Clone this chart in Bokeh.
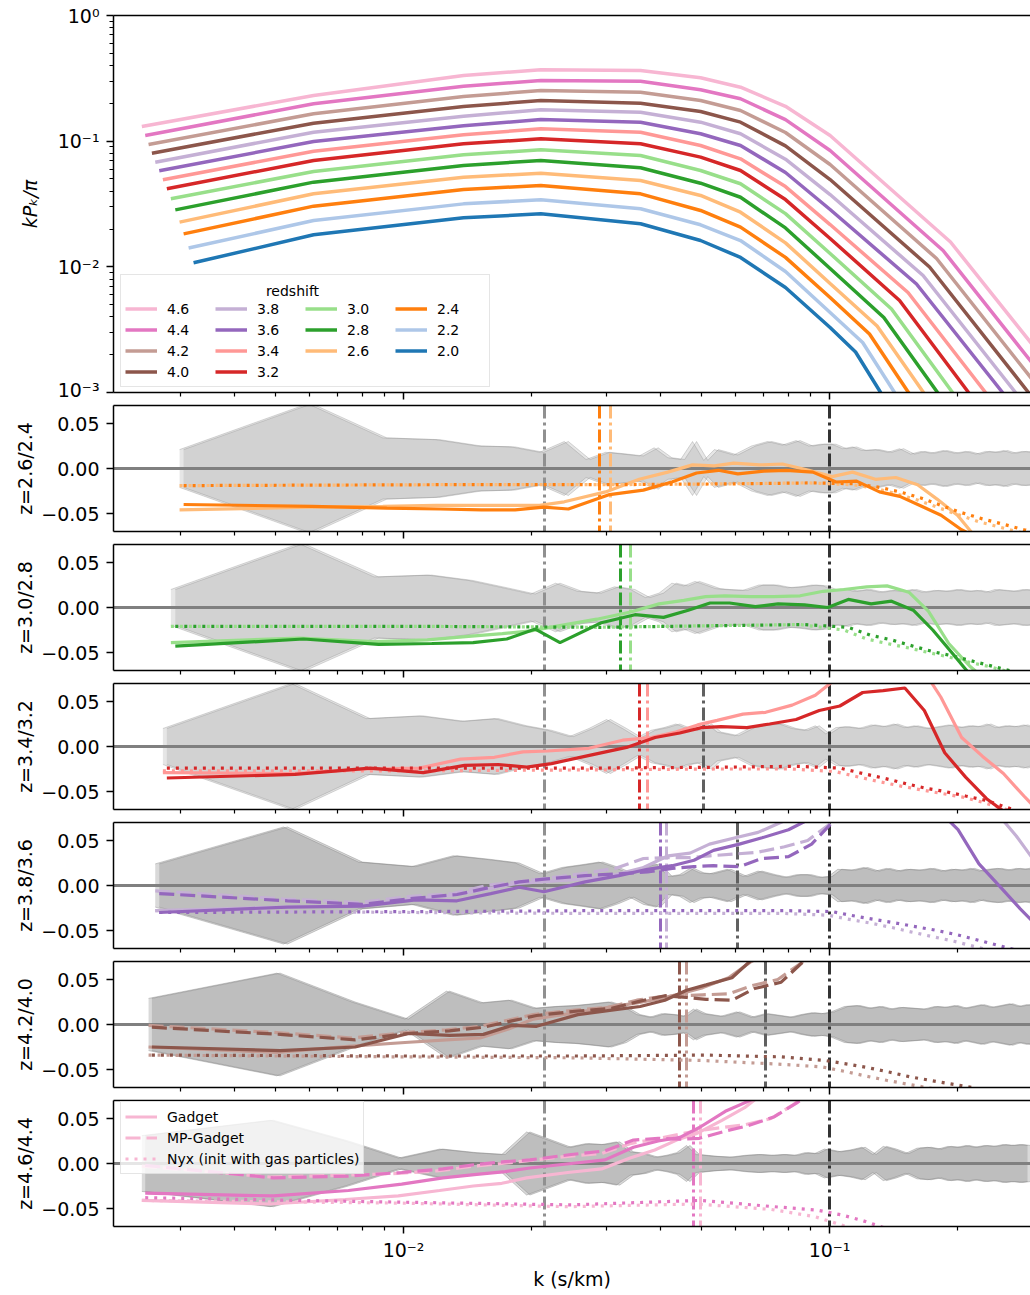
from bokeh.plotting import figure
from bokeh.layouts import column
from bokeh.models import Range1d, FixedTicker, LogAxis, Legend, LegendItem, Label
from bokeh.embed import file_html
from bokeh.resources import INLINE

FONT = "DejaVu Sans"

# ---------------- data ----------------
REDSHIFTS = [4.6, 4.4, 4.2, 4.0, 3.8, 3.6, 3.4, 3.2, 3.0, 2.8, 2.6, 2.4, 2.2, 2.0]
COLORS = ["#f7b6d2", "#e377c2", "#c49c94", "#8c564b", "#c5b0d5", "#9467bd",
          "#ff9896", "#d62728", "#98df8a", "#2ca02c", "#ffbb78", "#ff7f0e",
          "#aec7e8", "#1f77b4"]
# fundamental k-bin (s/km) per redshift
DK = [0.002430, 0.002475, 0.002520, 0.002566, 0.002613, 0.002670, 0.002723,
      0.002782, 0.002843, 0.002912, 0.002980, 0.003046, 0.003129, 0.003214]

# top panel: k sample points
K_COMMON = [0.00615, 0.01383, 0.0210, 0.0360, 0.0498, 0.0618, 0.0788, 0.1003]
K_MID = [0.1923, 0.1847, 0.1783, 0.1717, 0.1658, 0.1600, 0.1528, 0.1460, 0.1398,
         0.1341, 0.1293, 0.1241, 0.1196, 0.1151]
K_CROSS = [0.3679, 0.3392, 0.3162, 0.2931, 0.2733, 0.2548, 0.2324, 0.2120, 0.1944,
           0.1793, 0.1662, 0.1532, 0.1421, 0.1318]
K_TAIL = [0.388, 0.358, 0.334, 0.309, 0.288, 0.269, 0.245, 0.224, 0.205, 0.189,
          0.175, 0.162, 0.150, 0.139]

KP_46 = [0.1308, 0.2309, 0.3331, 0.3697, 0.3650, 0.3192, 0.2688, 0.1893, 0.1110, 0.01576, 0.0010, 0.0008]
KP_44 = [0.1110, 0.1983, 0.2738, 0.3039, 0.3001, 0.2563, 0.2174, 0.1483, 0.0843, 0.01349, 0.0010, 0.0008]
KP_42 = [0.0941, 0.1651, 0.2267, 0.2530, 0.2453, 0.2107, 0.1754, 0.1172, 0.0652, 0.01165, 0.0010, 0.0008]
KP_40 = [0.0802, 0.1390, 0.1888, 0.2107, 0.2005, 0.1722, 0.1416, 0.0918, 0.0495, 0.00997, 0.0010, 0.0008]
KP_38 = [0.0680, 0.1179, 0.1580, 0.1777, 0.1700, 0.1416, 0.1145, 0.0719, 0.0376, 0.00853, 0.0010, 0.0008]
KP_36 = [0.0581, 0.0994, 0.1325, 0.1487, 0.1416, 0.1145, 0.0924, 0.0563, 0.0286, 0.00730, 0.0010, 0.0008]
KP_34 = [0.0493, 0.0832, 0.1124, 0.1254, 0.1179, 0.0924, 0.0724, 0.0435, 0.0217, 0.00625, 0.0010, 0.0008]
KP_32 = [0.0418, 0.0702, 0.0953, 0.1044, 0.0953, 0.0746, 0.0584, 0.0343, 0.0168, 0.00540, 0.0010, 0.0008]
KP_30 = [0.0348, 0.0574, 0.0779, 0.0854, 0.0769, 0.0584, 0.0458, 0.0265, 0.01277, 0.00462, 0.0010, 0.0008]
KP_28 = [0.0284, 0.0472, 0.0640, 0.0702, 0.0614, 0.0463, 0.0358, 0.0204, 0.00970, 0.00395, 0.0010, 0.0008]
KP_26 = [0.0227, 0.0381, 0.0517, 0.0556, 0.0486, 0.0370, 0.0272, 0.01552, 0.00737, 0.00338, 0.0010, 0.0008]
KP_24 = [0.0183, 0.0304, 0.0412, 0.0444, 0.0381, 0.0281, 0.0207, 0.0119, 0.00570, 0.00292, 0.0010, 0.0008]
KP_22 = [0.0141, 0.0234, 0.0317, 0.0342, 0.0290, 0.0216, 0.0162, 0.00918, 0.00433, 0.00250, 0.0010, 0.0008]
KP_20 = [0.01077, 0.0180, 0.0246, 0.0264, 0.0220, 0.0162, 0.01187, 0.00685, 0.00329, 0.00210, 0.0010, 0.0008]
KP_ALL = [KP_46, KP_44, KP_42, KP_40, KP_38, KP_36, KP_34, KP_32, KP_30, KP_28,
          KP_26, KP_24, KP_22, KP_20]

# residual panels: k-bin indices (k = n * DK)
N_LINE = [1, 2, 3, 4, 5, 6, 7, 8, 10, 12, 14, 16, 18, 20, 23, 26, 30, 34, 38, 43,
          48, 54, 60, 67, 75, 84, 94, 105, 118]
N_DOT = [1, 4, 10, 20, 30, 38, 43, 48, 54, 60, 67, 75, 84, 94, 105, 118]
N_BAND = [1, 2, 3, 4, 5, 6, 7, 8, 9, 10, 11, 12, 13, 14, 15, 16, 17, 18, 19, 20,
          22, 24, 26, 28, 30, 32, 34, 36, 38, 40, 43, 46, 49, 52, 55, 58, 62, 66, 70, 74,
          78, 82, 86, 90, 95, 100, 105, 110, 115, 120]

# Gadget (solid)
G_24 = [-0.040, -0.042, -0.044, -0.045, -0.046, -0.046, -0.043, -0.045, -0.029, -0.024, -0.015, -0.005, -0.002, -0.006, -0.003, -0.002, -0.004, -0.015, -0.014, -0.026, -0.031, -0.042, -0.052, -0.068, -0.080, -0.090, -0.090, -0.090, -0.090]
G_26 = [-0.046, -0.043, -0.042, -0.041, -0.041, -0.041, -0.041, -0.037, -0.026, -0.012, -0.004, 0.004, 0.003, 0.006, 0.004, 0.005, -0.002, -0.009, -0.004, -0.012, -0.010, -0.018, -0.034, -0.052, -0.080, -0.090, -0.090, -0.090, -0.090]
G_28 = [-0.043, -0.035, -0.041, -0.040, -0.039, -0.035, -0.024, -0.039, -0.017, -0.008, -0.011, -0.003, 0.005, 0.005, 0.001, 0.004, 0.003, 0.000, 0.009, 0.004, 0.007, -0.003, -0.025, -0.052, -0.080, -0.090, -0.090, -0.090, -0.090]
G_30 = [-0.039, -0.034, -0.038, -0.036, -0.032, -0.029, -0.026, -0.021, -0.013, -0.005, 0.004, 0.008, 0.012, 0.013, 0.012, 0.012, 0.013, 0.018, 0.020, 0.023, 0.024, 0.017, -0.004, -0.040, -0.065, -0.085, -0.090, -0.090, -0.090]
G_32 = [-0.035, -0.031, -0.024, -0.029, -0.021, -0.020, -0.023, -0.019, -0.009, -0.001, 0.010, 0.015, 0.021, 0.022, 0.021, 0.025, 0.030, 0.040, 0.045, 0.060, 0.062, 0.065, 0.040, -0.007, -0.034, -0.058, -0.075, -0.085, -0.090]
G_34 = [-0.029, -0.030, -0.025, -0.024, -0.014, -0.012, -0.006, -0.005, -0.002, 0.007, 0.010, 0.016, 0.024, 0.029, 0.036, 0.038, 0.046, 0.057, 0.075, 0.090, 0.095, 0.095, 0.090, 0.055, 0.010, -0.011, -0.030, -0.055, -0.080]
G_36 = [-0.030, -0.024, -0.023, -0.016, -0.017, -0.009, -0.002, -0.007, 0.004, 0.011, 0.018, 0.022, 0.028, 0.039, 0.046, 0.053, 0.062, 0.075, 0.085, 0.095, 0.100, 0.100, 0.095, 0.085, 0.062, 0.024, -0.001, -0.026, -0.050]
G_38 = [-0.028, -0.024, -0.022, -0.015, -0.011, -0.004, 0.002, 0.004, 0.007, 0.012, 0.020, 0.033, 0.036, 0.046, 0.053, 0.059, 0.072, 0.085, 0.095, 0.100, 0.110, 0.110, 0.110, 0.110, 0.100, 0.090, 0.082, 0.055, 0.022]
G_40 = [-0.025, -0.029, -0.025, -0.010, -0.012, -0.011, -0.001, -0.002, 0.011, 0.016, 0.020, 0.027, 0.038, 0.044, 0.052, 0.075, 0.090, 0.100, 0.100, 0.100, 0.100, 0.100, 0.100, 0.100, 0.100, 0.100, 0.100, 0.100, 0.100]
G_42 = [-0.025, -0.031, -0.024, -0.020, -0.017, -0.015, -0.005, 0.006, 0.013, 0.019, 0.024, 0.029, 0.035, 0.041, 0.052, 0.070, 0.085, 0.100, 0.100, 0.100, 0.100, 0.100, 0.100, 0.100, 0.100, 0.100, 0.100, 0.100, 0.100]
G_44 = [-0.033, -0.036, -0.030, -0.023, -0.016, -0.012, -0.009, -0.005, 0.000, 0.004, 0.018, 0.025, 0.029, 0.040, 0.058, 0.069, 0.085, 0.100, 0.100, 0.100, 0.100, 0.100, 0.100, 0.100, 0.100, 0.100, 0.100, 0.100, 0.100]
G_46 = [-0.041, -0.045, -0.040, -0.036, -0.030, -0.025, -0.022, -0.016, -0.010, -0.006, 0.006, 0.015, 0.026, 0.033, 0.048, 0.062, 0.085, 0.100, 0.100, 0.100, 0.100, 0.100, 0.100, 0.100, 0.100, 0.100, 0.100, 0.100, 0.100]

# MP-Gadget (dashed)
MP_36 = [-0.009, -0.017, -0.021, -0.014, -0.010, -0.002, 0.004, 0.007, 0.011, 0.013, 0.015, 0.019, 0.021, 0.022, 0.021, 0.030, 0.032, 0.046, 0.070, 0.090, 0.100, 0.100, 0.100, 0.100, 0.100, 0.100, 0.100, 0.100, 0.100]
MP_38 = [-0.006, -0.015, -0.019, -0.012, -0.009, 0.000, 0.004, 0.007, 0.013, 0.019, 0.030, 0.031, 0.031, 0.033, 0.035, 0.037, 0.043, 0.050, 0.067, 0.090, 0.100, 0.100, 0.100, 0.100, 0.100, 0.100, 0.100, 0.100, 0.100]
MP_40 = [-0.003, -0.011, -0.017, -0.010, -0.007, -0.003, 0.004, 0.010, 0.015, 0.018, 0.026, 0.032, 0.030, 0.028, 0.027, 0.040, 0.047, 0.071, 0.090, 0.100, 0.100, 0.100, 0.100, 0.100, 0.100, 0.100, 0.100, 0.100, 0.100]
MP_42 = [-0.001, -0.009, -0.015, -0.009, -0.006, -0.002, 0.005, 0.011, 0.016, 0.019, 0.027, 0.031, 0.032, 0.033, 0.034, 0.043, 0.050, 0.068, 0.090, 0.100, 0.100, 0.100, 0.100, 0.100, 0.100, 0.100, 0.100, 0.100, 0.100]
MP_44 = [-0.002, -0.016, -0.014, -0.010, -0.006, -0.001, 0.002, 0.004, 0.010, 0.014, 0.026, 0.028, 0.027, 0.028, 0.036, 0.042, 0.052, 0.068, 0.085, 0.100, 0.100, 0.100, 0.100, 0.100, 0.100, 0.100, 0.100, 0.100, 0.100]
MP_46 = [-0.003, -0.015, -0.013, -0.011, -0.008, -0.003, 0.000, 0.003, 0.008, 0.011, 0.022, 0.027, 0.032, 0.036, 0.040, 0.043, 0.050, 0.066, 0.085, 0.100, 0.100, 0.100, 0.100, 0.100, 0.100, 0.100, 0.100, 0.100, 0.100]

# Nyx (dotted)
NYX_24 = [-0.019, -0.018, -0.018, -0.017, -0.016, -0.017, -0.021, -0.026, -0.033, -0.041, -0.049, -0.056, -0.062, -0.068, -0.073, -0.078]
NYX_26 = [-0.019, -0.018, -0.018, -0.017, -0.016, -0.018, -0.022, -0.028, -0.035, -0.043, -0.051, -0.059, -0.065, -0.071, -0.077, -0.082]
NYX_28 = [-0.021, -0.021, -0.022, -0.020, -0.019, -0.022, -0.031, -0.036, -0.043, -0.049, -0.054, -0.060, -0.066, -0.072, -0.077, -0.082]
NYX_30 = [-0.021, -0.021, -0.022, -0.020, -0.019, -0.025, -0.035, -0.040, -0.045, -0.050, -0.055, -0.061, -0.066, -0.072, -0.078, -0.083]
NYX_32 = [-0.024, -0.024, -0.024, -0.023, -0.022, -0.024, -0.030, -0.035, -0.041, -0.046, -0.050, -0.055, -0.060, -0.068, -0.075, -0.080]
NYX_34 = [-0.027, -0.027, -0.026, -0.025, -0.025, -0.028, -0.034, -0.039, -0.044, -0.048, -0.052, -0.056, -0.062, -0.069, -0.076, -0.081]
NYX_36 = [-0.030, -0.029, -0.028, -0.028, -0.028, -0.029, -0.034, -0.038, -0.042, -0.046, -0.050, -0.055, -0.061, -0.067, -0.073, -0.078]
NYX_38 = [-0.028, -0.030, -0.031, -0.031, -0.031, -0.033, -0.038, -0.042, -0.047, -0.052, -0.057, -0.062, -0.068, -0.074, -0.079, -0.084]
NYX_40 = [-0.034, -0.035, -0.035, -0.034, -0.036, -0.040, -0.044, -0.048, -0.053, -0.058, -0.062, -0.066, -0.070, -0.074, -0.078, -0.082]
NYX_42 = [-0.034, -0.036, -0.037, -0.040, -0.044, -0.047, -0.052, -0.057, -0.062, -0.066, -0.070, -0.074, -0.078, -0.082, -0.086, -0.090]
NYX_44 = [-0.038, -0.043, -0.046, -0.041, -0.048, -0.052, -0.057, -0.063, -0.071, -0.077, -0.082, -0.087, -0.090, -0.090, -0.090, -0.090]
NYX_46 = [-0.041, -0.044, -0.048, -0.045, -0.051, -0.059, -0.067, -0.074, -0.080, -0.085, -0.090, -0.090, -0.090, -0.090, -0.090, -0.090]

# half-width of the grey uncertainty band
BAND_1 = [0.021, 0.072, 0.034, 0.032, 0.025, 0.024, 0.018, 0.030, 0.010, 0.018, 0.016, 0.014, 0.023, 0.012, 0.010, 0.030, 0.009, 0.021, 0.018, 0.015, 0.025, 0.030, 0.026, 0.031, 0.025, 0.027, 0.027, 0.022, 0.024, 0.020, 0.021, 0.018, 0.022, 0.016, 0.019, 0.017, 0.020, 0.017, 0.019, 0.016, 0.019, 0.018, 0.020, 0.017, 0.019, 0.018, 0.020, 0.018, 0.019, 0.018]
BAND_2 = [0.020, 0.071, 0.034, 0.036, 0.030, 0.022, 0.015, 0.027, 0.018, 0.016, 0.023, 0.020, 0.011, 0.016, 0.027, 0.024, 0.029, 0.025, 0.021, 0.020, 0.019, 0.025, 0.025, 0.022, 0.023, 0.025, 0.024, 0.019, 0.021, 0.018, 0.020, 0.017, 0.019, 0.018, 0.020, 0.017, 0.019, 0.018, 0.020, 0.018, 0.019, 0.017, 0.020, 0.019, 0.018, 0.020, 0.019, 0.018, 0.019, 0.018]
BAND_3 = [0.020, 0.070, 0.031, 0.034, 0.028, 0.031, 0.023, 0.018, 0.011, 0.020, 0.030, 0.020, 0.010, 0.018, 0.021, 0.025, 0.020, 0.018, 0.025, 0.016, 0.012, 0.021, 0.024, 0.025, 0.020, 0.018, 0.023, 0.014, 0.021, 0.022, 0.020, 0.024, 0.022, 0.025, 0.021, 0.023, 0.020, 0.022, 0.024, 0.021, 0.023, 0.022, 0.025, 0.021, 0.023, 0.022, 0.024, 0.021, 0.023, 0.022]
BAND_4 = [0.024, 0.065, 0.026, 0.021, 0.033, 0.029, 0.025, 0.013, 0.020, 0.023, 0.026, 0.020, 0.013, 0.021, 0.024, 0.010, 0.012, 0.019, 0.014, 0.013, 0.018, 0.010, 0.016, 0.012, 0.009, 0.012, 0.012, 0.009, 0.010, 0.018, 0.017, 0.020, 0.016, 0.019, 0.016, 0.018, 0.017, 0.019, 0.016, 0.018, 0.017, 0.019, 0.016, 0.018, 0.019, 0.017, 0.019, 0.018, 0.020, 0.018]
BAND_5 = [0.029, 0.057, 0.025, 0.006, 0.037, 0.024, 0.027, 0.018, 0.020, 0.021, 0.023, 0.025, 0.020, 0.011, 0.008, 0.012, 0.011, 0.009, 0.017, 0.012, 0.009, 0.014, 0.008, 0.012, 0.010, 0.008, 0.011, 0.013, 0.012, 0.014, 0.020, 0.021, 0.018, 0.020, 0.017, 0.019, 0.018, 0.017, 0.020, 0.019, 0.021, 0.018, 0.020, 0.022, 0.019, 0.021, 0.023, 0.020, 0.022, 0.021]
BAND_6 = [0.031, 0.048, 0.025, 0.006, 0.016, 0.012, 0.010, 0.035, 0.026, 0.018, 0.022, 0.021, 0.024, 0.013, 0.011, 0.007, 0.009, 0.012, 0.020, 0.010, 0.008, 0.007, 0.009, 0.010, 0.009, 0.010, 0.009, 0.012, 0.011, 0.016, 0.013, 0.015, 0.018, 0.010, 0.019, 0.016, 0.011, 0.017, 0.018, 0.016, 0.019, 0.018, 0.020, 0.018, 0.020, 0.019, 0.021, 0.020, 0.021, 0.020]

# vertical reference scales (s/km)
VL_GRAY = 0.0214
VL_BLACK = 0.1
VL_MID = [None, None, 0.0506, 0.0607, 0.0706, None]
VL_LO = [0.02880, 0.03231, 0.03581, 0.04012, 0.04432, 0.04795]
VL_HI = [0.03062, 0.03402, 0.03740, 0.04144, 0.04616, 0.04980]

X_LO, X_HI = 0.002085, 0.2963
X_MINOR = [0.003, 0.004, 0.005, 0.006, 0.007, 0.008, 0.009,
           0.02, 0.03, 0.04, 0.05, 0.06, 0.07, 0.08, 0.09, 0.2, 0.3]
Y_MINOR = [0.002, 0.003, 0.004, 0.005, 0.006, 0.007, 0.008, 0.009,
           0.02, 0.03, 0.04, 0.05, 0.06, 0.07, 0.08, 0.09,
           0.2, 0.3, 0.4, 0.5, 0.6, 0.7, 0.8, 0.9]

DOT = "3 6"
DASH = "15 6"
DASHDOT = "13 4 3 4"


def make_fig(height, ylog, yrange, top_b, bottom_b, last=False):
    p = figure(width=1030, height=height, x_axis_type="log",
               y_axis_type="log" if ylog else "linear",
               x_range=Range1d(X_LO, X_HI), y_range=Range1d(*yrange),
               output_backend="svg", toolbar_location=None,
               min_border_left=113, min_border_right=0,
               min_border_top=top_b, min_border_bottom=bottom_b)
    p.outline_line_color = None
    p.xgrid.visible = False
    p.ygrid.visible = False
    for ax in (p.below[0], p.left[0]):
        ax.axis_line_width = 1.5
        ax.axis_line_color = "black"
        ax.major_tick_line_width = 1.5
        ax.minor_tick_line_width = 1.2
        ax.major_tick_out = 7
        ax.major_tick_in = 0
        ax.minor_tick_out = 4
        ax.minor_tick_in = 0
        ax.major_label_text_font = FONT
        ax.major_label_text_font_size = "19px"
        ax.major_label_text_color = "black"
        ax.major_label_standoff = 7
        ax.axis_label_text_font = FONT
        ax.axis_label_text_font_size = "19px"
        ax.axis_label_text_font_style = "normal"
        ax.axis_label_text_color = "black"
    xa = p.below[0]
    xa.ticker = FixedTicker(ticks=[0.01, 0.1], minor_ticks=X_MINOR)
    if last:
        xa.major_label_overrides = {0.01: "10⁻²", 0.1: "10⁻¹"}
        xa.major_label_standoff = 5
        xa.axis_label = "k (s/km)"
        xa.axis_label_standoff = 4
    else:
        xa.major_label_overrides = {0.01: "", 0.1: ""}
        xa.major_label_text_font_size = "0px"
        xa.major_label_standoff = 0
    spine = LogAxis(ticker=FixedTicker(ticks=[]), major_tick_out=0, minor_tick_out=0,
                    major_tick_in=0, minor_tick_in=0, major_label_standoff=0,
                    major_label_text_font_size="0px", axis_line_width=1.5,
                    major_tick_line_color=None, minor_tick_line_color=None)
    p.add_layout(spine, "above")
    return p


# ---------------- top panel ----------------
top = make_fig(400, True, (1e-3, 1.0), 15, 8)
ya = top.left[0]
ya.ticker = FixedTicker(ticks=[0.001, 0.01, 0.1, 1.0], minor_ticks=Y_MINOR)
ya.major_label_overrides = {0.001: "10⁻³", 0.01: "10⁻²", 0.1: "10⁻¹", 1.0: "10⁰"}
ya.axis_label = "kPₖ/π"
ya.axis_label_text_font_style = "italic"
ya.axis_label_standoff = 14

top_r = []
for i, z in enumerate(REDSHIFTS):
    ks = [DK[i]] + K_COMMON + [K_MID[i], K_CROSS[i], K_TAIL[i]]
    top_r.append(top.line(ks, KP_ALL[i], line_color=COLORS[i], line_width=3.5))

blank = top.line(x=[], y=[], line_alpha=0)
items = [LegendItem(label=f"{z:.1f}", renderers=[r]) for z, r in zip(REDSHIFTS, top_r)]
items.insert(11, LegendItem(label=" ", renderers=[blank]))
items.append(LegendItem(label=" ", renderers=[blank]))
leg = Legend(items=items, location=(7, 5), nrows=4, title=" ",
             title_text_font_size="14px", title_standoff=3,
             label_text_font=FONT, label_text_font_size="14px", label_text_color="black",
             glyph_width=32, glyph_height=21, label_height=21, label_width=48,
             label_standoff=10, spacing=0, padding=4, margin=0,
             border_line_color="#cccccc", border_line_width=1,
             background_fill_color="white", background_fill_alpha=0.0)
top.add_layout(leg)
top.add_layout(Label(x=179, y=102, x_units="screen", y_units="screen", text="redshift",
                     text_align="center", text_baseline="middle", level="overlay",
                     text_font=FONT, text_font_size="14px", text_color="black"))

# ---------------- residual panels ----------------
PANELS = [
    (10, 11, G_26, G_24, None, None, NYX_26, NYX_24, BAND_1, 0.2, "z=2.6/2.4"),
    (8, 9, G_30, G_28, None, None, NYX_30, NYX_28, BAND_2, 0.2, "z=3.0/2.8"),
    (6, 7, G_34, G_32, None, None, NYX_34, NYX_32, BAND_3, 0.2, "z=3.4/3.2"),
    (4, 5, G_38, G_36, MP_38, MP_36, NYX_38, NYX_36, BAND_4, 0.3, "z=3.8/3.6"),
    (2, 3, G_42, G_40, MP_42, MP_40, NYX_42, NYX_40, BAND_5, 0.3, "z=4.2/4.0"),
    (0, 1, G_46, G_44, MP_46, MP_44, NYX_46, NYX_44, BAND_6, 0.3, "z=4.6/4.4"),
]

figs = [top]
for j, (hi, lo, g_hi, g_lo, mp_hi, mp_lo, nyx_hi, nyx_lo, band, a, lab) in enumerate(PANELS):
    last = j == len(PANELS) - 1
    p = make_fig(200 if last else 139, False, (-0.07, 0.07), 5, 69 if last else 8, last=last)
    yax = p.left[0]
    yax.ticker = FixedTicker(ticks=[-0.05, 0, 0.05], minor_ticks=[])
    yax.major_label_overrides = {-0.05: "−0.05", 0: "0.00", 0.05: "0.05"}
    yax.axis_label = lab
    yax.axis_label_standoff = 2

    neg = [-w for w in band]
    for idx in (hi, lo):
        kb = [n * DK[idx] for n in N_BAND]
        p.varea(x=kb, y1=neg, y2=band, fill_color="gray", fill_alpha=a)
        p.line(kb, band, line_color="gray", line_alpha=a + 0.1, line_width=1)
        p.line(kb, neg, line_color="gray", line_alpha=a + 0.1, line_width=1)

    p.hspan(y=[0], line_color="gray", line_width=3)
    p.vspan(x=[VL_GRAY], line_color="#909090", line_width=3, line_dash=DASHDOT)
    p.vspan(x=[VL_BLACK], line_color="#333333", line_width=3, line_dash=DASHDOT)
    if VL_MID[j] is not None:
        p.vspan(x=[VL_MID[j]], line_color="#606060", line_width=3, line_dash=DASHDOT)
    p.vspan(x=[VL_LO[j]], line_color=COLORS[lo], line_width=3, line_dash=DASHDOT)
    p.vspan(x=[VL_HI[j]], line_color=COLORS[hi], line_width=3, line_dash=DASHDOT)

    rs = {}
    for idx, g, mp, nyx in ((hi, g_hi, mp_hi, nyx_hi), (lo, g_lo, mp_lo, nyx_lo)):
        kl = [n * DK[idx] for n in N_LINE]
        kd = [n * DK[idx] for n in N_DOT]
        rs[(idx, "g")] = p.line(kl, g, line_color=COLORS[idx], line_width=3.2)
        if mp is not None:
            rs[(idx, "mp")] = p.line(kl, mp, line_color=COLORS[idx], line_width=3.2,
                                     line_dash=DASH)
        rs[(idx, "nyx")] = p.line(kd, nyx, line_color=COLORS[idx], line_width=3.2,
                                  line_dash=DOT)
    if last:
        leg2 = Legend(items=[
            LegendItem(label="Gadget", renderers=[rs[(hi, "g")]]),
            LegendItem(label="MP-Gadget", renderers=[rs[(hi, "mp")]]),
            LegendItem(label="Nyx (init with gas particles)", renderers=[rs[(hi, "nyx")]]),
        ], location=(7, 52), label_text_font=FONT, label_text_font_size="14px",
            label_text_color="black",
            glyph_width=32, glyph_height=21, label_height=21, label_standoff=10,
            spacing=0, padding=4, margin=0,
            border_line_color="#cccccc", border_line_width=1,
            background_fill_color="white", background_fill_alpha=0.8)
        p.add_layout(leg2)
    figs.append(p)

layout = column(*figs)
open("out.html", "w").write(file_html(layout, INLINE, title="Flux power spectrum"))
